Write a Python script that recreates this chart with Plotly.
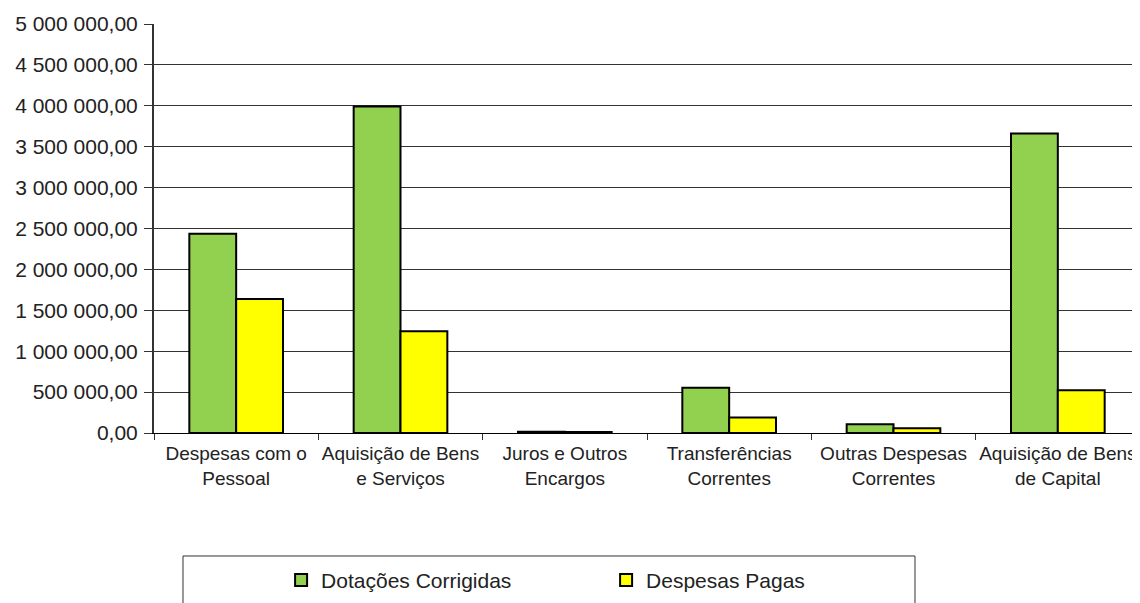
import plotly.graph_objects as go

categories = [
    "Despesas com o<br>Pessoal",
    "Aquisição de Bens<br>e Serviços",
    "Juros e Outros<br>Encargos",
    "Transferências<br>Correntes",
    "Outras Despesas<br>Correntes",
    "Aquisição de Bens<br>de Capital",
]
dotacoes_corrigidas = [2436000, 3990000, 14000, 553000, 106000, 3660000]
despesas_pagas = [1638000, 1244000, 12000, 190000, 57000, 522000]
y_ticks = [0, 500000, 1000000, 1500000, 2000000, 2500000, 3000000, 3500000, 4000000, 4500000, 5000000]

font_family = "Arial, Liberation Sans, sans-serif"
text_color = "#222222"

fig = go.Figure()
fig.add_trace(go.Bar(
    x=categories, y=dotacoes_corrigidas, name="Dotações Corrigidas",
    marker=dict(color="#92D050", line=dict(color="#000000", width=2)),
))
fig.add_trace(go.Bar(
    x=categories, y=despesas_pagas, name="Despesas Pagas",
    marker=dict(color="#FFFF00", line=dict(color="#000000", width=2)),
))

fig.update_layout(
    width=1132, height=595,
    margin=dict(l=146, r=0, t=16, b=170, autoexpand=False),
    paper_bgcolor="white", plot_bgcolor="white",
    separators=", ",
    barmode="group", bargap=0.43, bargroupgap=0,
    font=dict(family=font_family, size=19, color=text_color),
    showlegend=True,
    legend=dict(
        orientation="h", x=0.1289, xanchor="left", y=-0.36, yanchor="middle",
        font=dict(family=font_family, size=21, color=text_color),
        entrywidth=280, entrywidthmode="pixels",
        bgcolor="rgba(0,0,0,0)", borderwidth=0,
    ),
    shapes=[
        dict(
            type="rect", xref="paper", yref="paper",
            x0=0.0294, x1=0.7718, y0=-0.3007, y1=-0.47,
            line=dict(color="#333333", width=1), fillcolor="rgba(0,0,0,0)", layer="below",
        ),
        dict(
            type="line", xref="paper", yref="paper",
            x0=0.999, x1=0.999, y0=0, y1=1,
            line=dict(color="#BBBBBB", width=1), layer="below",
        ),
    ],
)
fig.update_xaxes(
    showline=True, linecolor="#000000", linewidth=1,
    ticks="outside", tickson="boundaries", ticklen=6, tickcolor="#333333",
    showgrid=False, tickfont=dict(size=19, color=text_color),
    ticklabelstandoff=3, tickangle=0, automargin=False,
)
fig.update_yaxes(
    range=[0, 5000000], tickvals=y_ticks, tickformat=",.2f",
    showline=True, linecolor="#333333", linewidth=2,
    ticks="outside", ticklen=8, tickcolor="#333333",
    showgrid=True, gridcolor="#333333", gridwidth=1,
    zeroline=False, tickfont=dict(size=21, color=text_color),
    ticklabelstandoff=2, automargin=False,
)

fig.write_html("out.html")
